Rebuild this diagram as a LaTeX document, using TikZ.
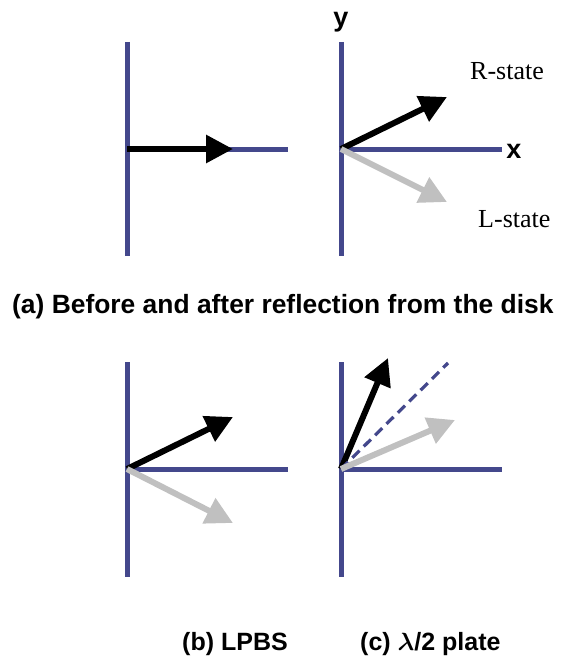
\documentclass[tikz,border=0pt]{standalone}
\usepackage{fontspec}
\usepackage{amsmath,amssymb,bm}
\usepackage{xcolor}
\usepackage{tikz}
\usetikzlibrary{arrows.meta, positioning, calc}
\setmainfont{Liberation Serif}
\setsansfont{Liberation Sans}
\definecolor{axisblue}{RGB}{68,72,140}
\definecolor{lgray}{RGB}{192,192,192}

\begin{document}
\begin{tikzpicture}[
  x=1pt, y=-1pt,
  axis/.style={draw=axisblue, line width=5pt},
  pol/.style={line width=6pt, -{Triangle[length=27pt, width=27pt]}},
  rpol/.style={pol, black},
  lpol/.style={pol, lgray},
  diag/.style={draw=axisblue, line width=3.2pt, dash pattern=on 10pt off 6pt},
  lab/.style={font=\sffamily\bfseries\fontsize{25}{30}\selectfont, inner sep=0pt},
  statelab/.style={font=\rmfamily\fontsize{26}{30}\selectfont, inner sep=0pt}
]
  \useasboundingbox (0,0) rectangle (564,658);

  % (a) before reflection
  \coordinate (oA) at (127,149);
  \coordinate (topA) at (127,42);
  \coordinate (botA) at (127,256);
  \coordinate (endA) at (288,149);
  \coordinate (tipA) at (233,149);
  \draw[axis] (topA) -- (botA);
  \draw[axis] (oA) -- (endA);
  \draw[rpol] (oA) -- (tipA);

  % (a) after reflection
  \coordinate (oB) at (341,149);
  \coordinate (topB) at (341,42);
  \coordinate (botB) at (341,256);
  \coordinate (endB) at (502,149);
  \coordinate (tipRB) at (447,97);
  \coordinate (tipLB) at (447,202);
  \draw[axis] (topB) -- (botB);
  \draw[axis] (oB) -- (endB);
  \draw[rpol] (oB) -- (tipRB);
  \draw[lpol] (oB) -- (tipLB);
  \node[lab, anchor=base, font=\sffamily\bfseries\fontsize{27}{30}\selectfont] (ylab) at (341,27) {y};
  \node[lab, anchor=base, font=\sffamily\bfseries\fontsize{27}{30}\selectfont] (xlab) at (514,158) {x};
  \node[statelab, anchor=base west] (rstate) at (470,80) {R-state};
  \node[statelab, anchor=base west] (lstate) at (478,227) {L-state};
  \node[lab, anchor=base west, font=\sffamily\bfseries\fontsize{26.4}{30}\selectfont] (capA) at (12,313) {(a) Before and after reflection from the disk};

  % (b) LPBS
  \coordinate (oC) at (127,469);
  \coordinate (topC) at (127,362);
  \coordinate (botC) at (127,577);
  \coordinate (endC) at (288,469);
  \coordinate (tipRC) at (233,417);
  \coordinate (tipLC) at (233,523);
  \draw[axis] (topC) -- (botC);
  \draw[axis] (oC) -- (endC);
  \draw[rpol] (oC) -- (tipRC);
  \draw[lpol] (oC) -- (tipLC);
  \node[lab, anchor=base west] (capB) at (182,650) {(b) LPBS};

  % (c) half-wave plate
  \coordinate (oD) at (341,469);
  \coordinate (topD) at (341,362);
  \coordinate (botD) at (341,577);
  \coordinate (endD) at (502,469);
  \coordinate (tipRD) at (388,358);
  \coordinate (tipLD) at (455,420);
  \coordinate (fastD) at (448,363);
  \draw[axis] (topD) -- (botD);
  \draw[axis] (oD) -- (endD);
  \draw[rpol] (oD) -- (tipRD);
  \draw[diag] (oD) -- (fastD);
  \draw[lpol] (oD) -- (tipLD);
  \node[lab, anchor=base west] (capC) at (360,650) {(c) {\boldmath$\lambda$}/2 plate};
\end{tikzpicture}
\end{document}
